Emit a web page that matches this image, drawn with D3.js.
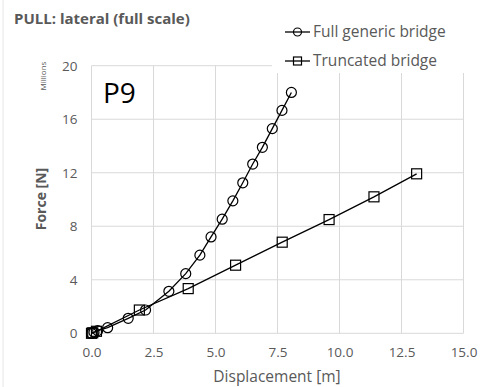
<!DOCTYPE html>
<html><head><meta charset="utf-8">
<script src="https://cdn.jsdelivr.net/npm/d3@7"></script>
<style>body{margin:0;background:#fff}svg{display:block}text{font-family:"Open Sans","Noto Sans",sans-serif}</style>
</head><body><svg id="c" width="480" height="387"></svg>
<script>
const fullX = [0.0, 0.1, 0.25, 0.65, 1.48, 2.18, 3.12, 3.8, 4.37, 4.82, 5.27, 5.7, 6.1, 6.5, 6.89, 7.29, 7.68, 8.06];
const fullY = [0.0, 0.08, 0.2, 0.42, 1.12, 1.74, 3.14, 4.46, 5.84, 7.2, 8.53, 9.9, 11.25, 12.65, 13.9, 15.3, 16.66, 18.0];
const truncX = [0.0, 0.05, 0.2, 1.93, 3.9, 5.81, 7.69, 9.58, 11.39, 13.11];
const truncY = [0.0, 0.04, 0.15, 1.74, 3.34, 5.09, 6.81, 8.5, 10.2, 11.92];
const xTicks = [0, 2.5, 5, 7.5, 10, 12.5, 15];
const yTicks = [0, 4, 8, 12, 16, 20];
const seriesNames = ["Full generic bridge", "Truncated bridge"];

const svg = d3.select("#c");
const x = d3.scaleLinear().domain([0, 15]).range([91.5, 463.5]);
const y = d3.scaleLinear().domain([0, 20]).range([333.3, 65.7]);
const grid = "#d9d9d9", tc = "#595959";

svg.append("line").attr("x1",3).attr("x2",3).attr("y1",0).attr("y2",387).attr("stroke","#e6e6e6");

// gridlines
svg.append("g").selectAll("line").data(xTicks).join("line")
  .attr("x1", d=>x(d)).attr("x2", d=>x(d)).attr("y1", y(0)).attr("y2", y(20))
  .attr("stroke", grid).attr("stroke-width", 1);
svg.append("g").selectAll("line").data(yTicks).join("line")
  .attr("x1", x(0)).attr("x2", x(15)).attr("y1", d=>y(d)).attr("y2", d=>y(d))
  .attr("stroke", grid).attr("stroke-width", 1);

// axes labels
const xa = svg.append("g").attr("transform", `translate(0,${y(0)})`)
  .call(d3.axisBottom(x).tickValues(xTicks).tickFormat(d3.format(".1f")).tickSize(0).tickPadding(14));
xa.select(".domain").remove();
xa.selectAll("text").attr("fill", tc).attr("font-size", 13.5);
const ya = svg.append("g").attr("transform", `translate(${x(0)},0)`)
  .call(d3.axisLeft(y).tickValues(yTicks).tickSize(0).tickPadding(14));
ya.select(".domain").remove();
ya.selectAll("text").attr("fill", tc).attr("font-size", 13.5);

// lines
const line = d3.line().x(d=>x(d[0])).y(d=>y(d[1]));
const full = fullX.map((v,i)=>[v, fullY[i]]);
const trunc = truncX.map((v,i)=>[v, truncY[i]]);
svg.append("path").datum(trunc).attr("d", line).attr("fill","none").attr("stroke","#000").attr("stroke-width",1.3);
svg.append("path").datum(full).attr("d", line).attr("fill","none").attr("stroke","#000").attr("stroke-width",1.3);
svg.append("g").selectAll("rect").data(trunc).join("rect")
  .attr("x", d=>x(d[0])-5).attr("y", d=>y(d[1])-5).attr("width",10).attr("height",10)
  .attr("fill","none").attr("stroke","#000").attr("stroke-width",1.2);
svg.append("g").selectAll("circle").data(full).join("circle")
  .attr("cx", d=>x(d[0])).attr("cy", d=>y(d[1])).attr("r",5)
  .attr("fill","none").attr("stroke","#000").attr("stroke-width",1.2);

// legend box
svg.append("rect").attr("x",272).attr("y",14).attr("width",208).attr("height",59).attr("fill","#fff");
const lg = svg.append("g");
[0,1].forEach(i=>{
  const ly = i===0 ? 32 : 61;
  lg.append("line").attr("x1",285).attr("x2",310).attr("y1",ly).attr("y2",ly).attr("stroke","#000").attr("stroke-width",1.3);
  if(i===0) lg.append("circle").attr("cx",297.5).attr("cy",ly).attr("r",4).attr("fill","none").attr("stroke","#000").attr("stroke-width",1.2);
  else lg.append("rect").attr("x",293.5).attr("y",ly-4).attr("width",8).attr("height",8).attr("fill","none").attr("stroke","#000").attr("stroke-width",1.2);
  lg.append("text").attr("x",313).attr("y",ly+5).attr("font-size",15.5).attr("fill",tc).text(seriesNames[i]);
});

// titles
svg.append("text").attr("x",14).attr("y",24).attr("font-size",15).attr("font-weight","bold").attr("fill","#595959").text("PULL: lateral (full scale)");
svg.append("text").attr("x",103).attr("y",103).attr("font-size",28).attr("fill","#000").text("P9");
svg.append("text").attr("transform","translate(46,76) rotate(-90)").attr("text-anchor","middle").attr("font-size",8).attr("fill",tc).text("Millions");
svg.append("text").attr("transform","translate(46,199) rotate(-90)").attr("text-anchor","middle").attr("font-size",14).attr("font-weight","bold").attr("fill",tc).text("Force [N]");
svg.append("text").attr("x",277).attr("y",382).attr("text-anchor","middle").attr("font-size",15.5).attr("fill",tc).text("Displacement [m]");
</script></body></html>
